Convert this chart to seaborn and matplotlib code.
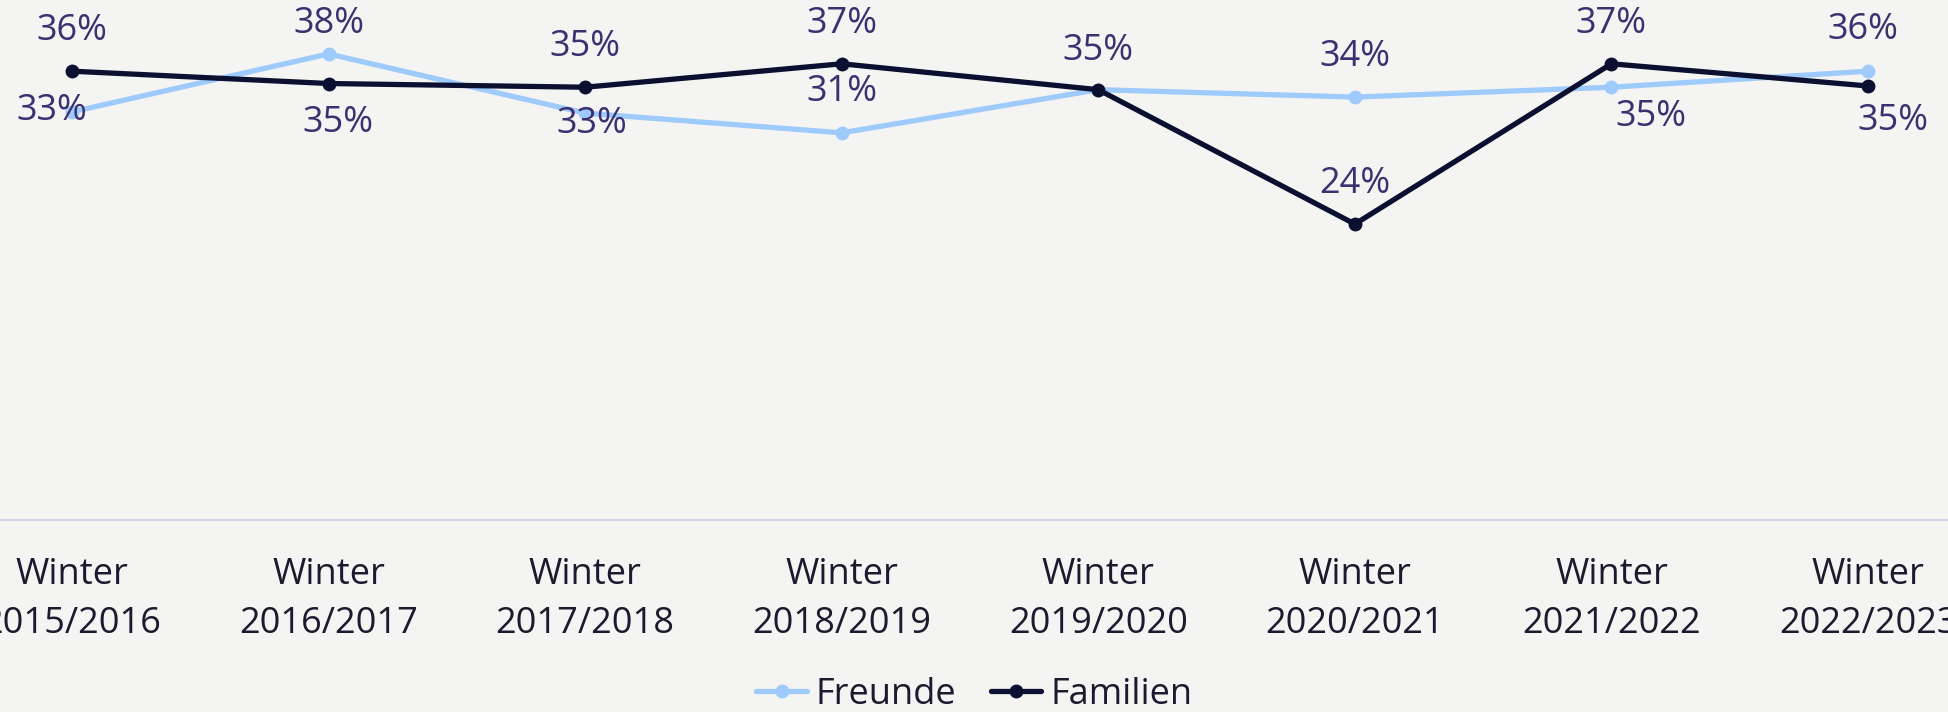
import numpy as np
import pandas as pd
import matplotlib
matplotlib.use("Agg")
import matplotlib.pyplot as plt
import seaborn as sns

seasons = ["Winter\n2015/2016", "Winter\n2016/2017", "Winter\n2017/2018", "Winter\n2018/2019",
           "Winter\n2019/2020", "Winter\n2020/2021", "Winter\n2021/2022", "Winter\n2022/2023"]
freunde = [33.1, 37.8, 33.0, 31.4, 34.9, 34.3, 35.1, 36.4]
familien = [36.4, 35.4, 35.1, 37.0, 34.9, 24.0, 37.0, 35.2]
series_names = ["Freunde", "Familien"]
colors = {"Freunde": "#9ecbfc", "Familien": "#0b1030"}

# label offsets in pixels (dx, dy), None = label hidden
freunde_off = [(-20, 1), (0, 30), (7, -11), (0, 41), None, (0, 40), (40, -30), (-5, 41)]
familien_off = [(0, 40), (9, -39), (0, 40), (0, 40), (0, 39), (0, 40), (0, 40), (25, -35)]

df = pd.DataFrame({
    "season": seasons * 2,
    "x": list(range(len(seasons))) * 2,
    "value": freunde + familien,
    "series": ["Freunde"] * len(seasons) + ["Familien"] * len(seasons),
})

sns.set_style("white")
plt.rcParams["font.family"] = ["Open Sans", "DejaVu Sans"]
bg = "#f4f4f2"
fs = 26

fig = plt.figure(figsize=(19.49, 7.12), dpi=100, facecolor=bg)
ax = fig.add_axes([0, (712 - 520) / 712, 1, 520 / 712])
ax.set_facecolor(bg)

sns.lineplot(data=df, x="x", y="value", hue="series", hue_order=series_names,
             palette=colors, marker="o", markersize=10, markeredgewidth=0,
             linewidth=3.8, ax=ax, legend=True)

# data labels
for name, vals, offs in [("Freunde", freunde, freunde_off), ("Familien", familien, familien_off)]:
    for i, (v, o) in enumerate(zip(vals, offs)):
        if o is None:
            continue
        ax.annotate(f"{round(v):.0f}%", (i, v), xytext=o, textcoords="offset pixels",
                    ha="center", va="center", fontsize=fs, color="#3b3170",
                    annotation_clip=False)

# x range so that categories sit where they do in the reference
spacing = 256.6
ax.set_xlim(-72 / spacing, 7 + (1949 - 1868) / spacing)
ax.set_ylim(0, 520 / 12.33)
ax.set_xticks(range(len(seasons)))
ax.set_xticklabels(seasons, fontsize=fs, color="#1c1a2e", linespacing=1.45)
ax.tick_params(axis="x", length=0, pad=27)
ax.set_yticks([])
ax.set_xlabel("")
ax.set_ylabel("")
for s in ["top", "left", "right"]:
    ax.spines[s].set_visible(False)
ax.spines["bottom"].set_color("#d3d3ee")
ax.spines["bottom"].set_linewidth(1.5)

handles, labels = ax.get_legend_handles_labels()
ax.get_legend().remove()
fig.legend(handles, labels, loc="center", bbox_to_anchor=(0.5, 17 / 712), ncol=2,
           frameon=False, fontsize=fs, handlelength=1.4, handletextpad=0.25,
           columnspacing=0.95, labelcolor="#1c1a2e")

fig.savefig("out.png", dpi=100, facecolor=bg)
